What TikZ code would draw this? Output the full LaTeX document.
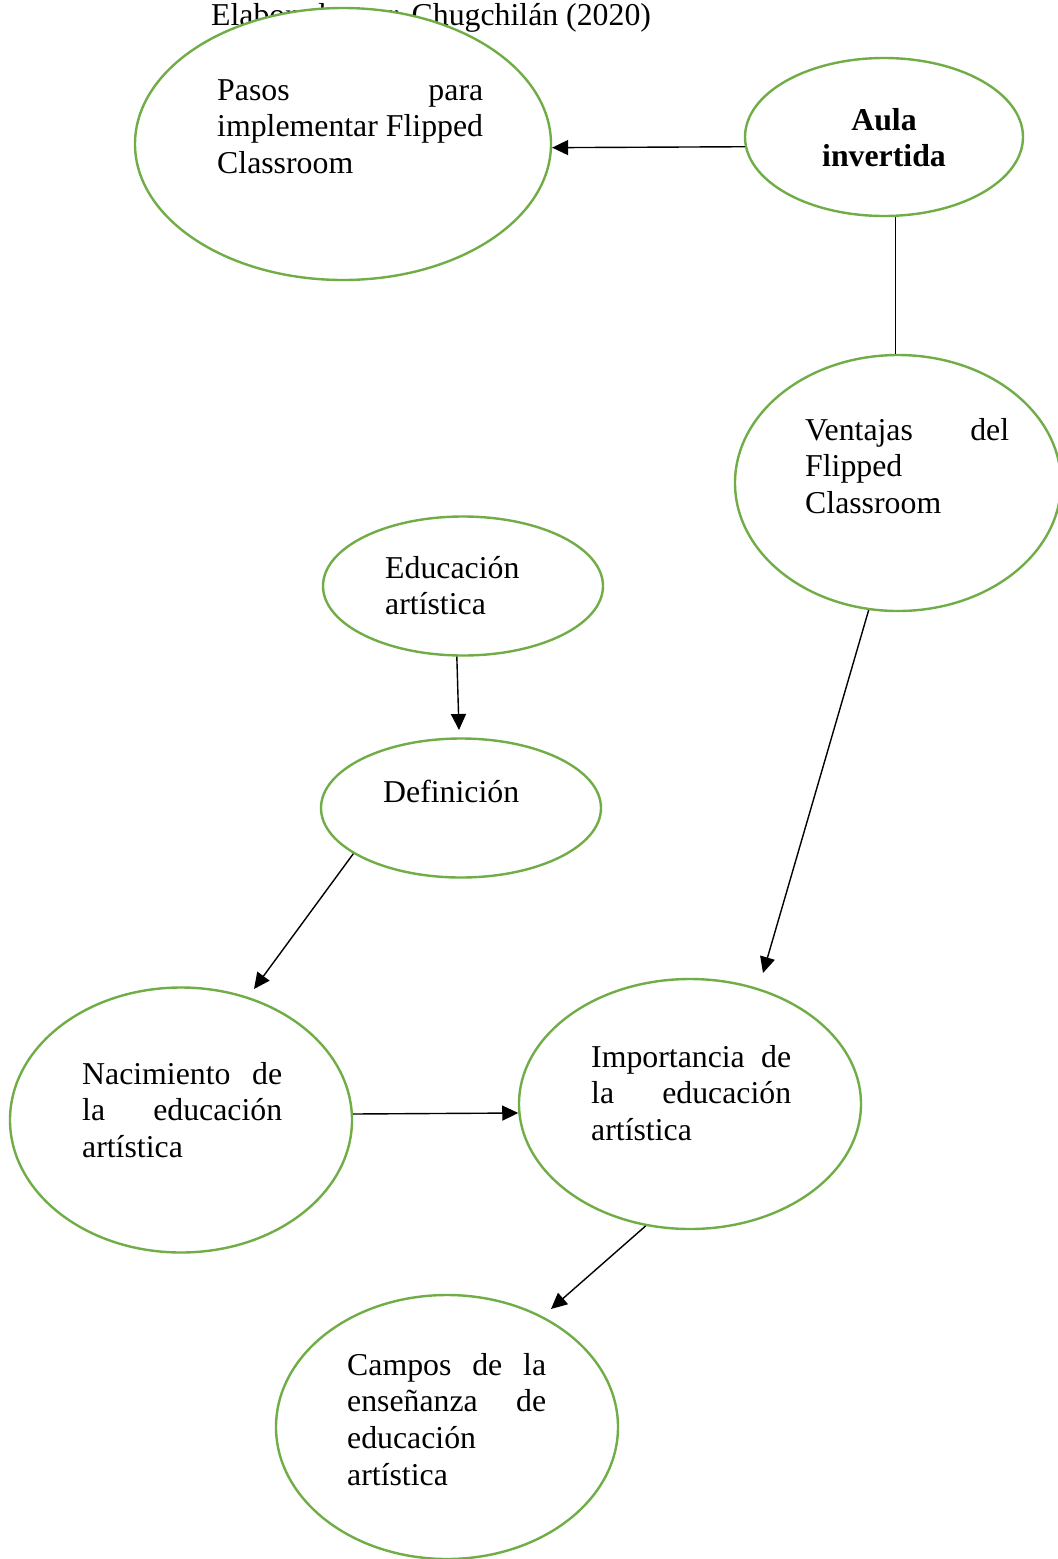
\documentclass[tikz,border=0pt]{standalone}
\usepackage{fontspec}
\setmainfont{Liberation Serif}
\usetikzlibrary{shapes.geometric,arrows.meta}
\definecolor{ogreen}{HTML}{70AD47}
\begin{document}
\begin{tikzpicture}[x=1pt,y=-1pt,
  bubble/.style={ellipse,draw=ogreen,line width=2.4pt,fill=white,inner sep=0pt},
  lbl/.style={inner sep=0pt,anchor=base west,font=\fontsize{31.8}{36.8}\selectfont},
  conn/.style={line width=1.4pt},
  arr/.style={conn,-{Triangle[length=16pt,width=15pt]}}]
\useasboundingbox (0,0) rectangle (1058,1559);
% title (partly hidden by the first ellipse)
\node[lbl] (title) at (211,25) {Elaborado por: Chugchilán (2020)};
% ellipses
\node[bubble,minimum width=416pt,minimum height=272pt] (pasos) at (343,144) {};
\node[bubble,minimum width=278pt,minimum height=158pt] (aula) at (884,137) {};
\node[bubble,minimum width=326pt,minimum height=256pt] (vent) at (898,483) {};
\node[bubble,minimum width=280pt,minimum height=139pt] (educ) at (463,586) {};
\node[bubble,minimum width=280pt,minimum height=139pt] (defi) at (461,808) {};
\node[bubble,minimum width=342pt,minimum height=265pt] (naci) at (181,1120) {};
\node[bubble,minimum width=342pt,minimum height=250pt] (impo) at (690,1104) {};
\node[bubble,minimum width=342pt,minimum height=264pt] (camp) at (447,1427) {};
% texts
\node[lbl] (tpasos) at (217,100) {\begin{tabular}[t]{@{}l@{}}\makebox[266pt][s]{Pasos para}\\implementar Flipped\\Classroom\end{tabular}};
\node[lbl,anchor=base,font=\fontsize{31.8}{36.8}\selectfont\bfseries] (taula) at (884,130) {\begin{tabular}[t]{@{}c@{}}Aula\\invertida\end{tabular}};
\node[lbl] (tvent) at (805,440) {\begin{tabular}[t]{@{}l@{}}\makebox[204pt][s]{Ventajas del}\\Flipped\\Classroom\end{tabular}};
\node[lbl] (teduc) at (385,578) {\begin{tabular}[t]{@{}l@{}}Educación\\artística\end{tabular}};
\node[lbl] (tdefi) at (383,802) {Definición};
\node[lbl] (tnaci) at (82,1084) {\begin{tabular}[t]{@{}l@{}}\makebox[200pt][s]{Nacimiento de}\\\makebox[200pt][s]{la educación}\\artística\end{tabular}};
\node[lbl] (timpo) at (591,1067) {\begin{tabular}[t]{@{}l@{}}\makebox[200pt][s]{Importancia de}\\\makebox[200pt][s]{la educación}\\artística\end{tabular}};
\node[lbl] (tcamp) at (347,1375) {\begin{tabular}[t]{@{}l@{}}\makebox[199pt][s]{Campos de la}\\\makebox[199pt][s]{enseñanza de}\\educación\\artística\end{tabular}};
% arrow end points (tips stop short of the ellipses)
\coordinate (e1) at (763,973);
\coordinate (e2) at (459,730);
\coordinate (e3) at (254,989);
\coordinate (e4) at (551,1309);
% connectors
\draw[arr] (aula.184) -- (pasos.359);
\draw[conn] (aula.278) -- (aula.278 |- vent.north);
\draw[arr] (vent.257) -- (e1);
\draw[arr] (educ.265) -- (e2);
\draw[arr] (defi.203) -- (e3);
\draw[arr] (naci.2) -- (impo.183);
\draw[arr] (impo.250) -- (e4);
\end{tikzpicture}
\end{document}
